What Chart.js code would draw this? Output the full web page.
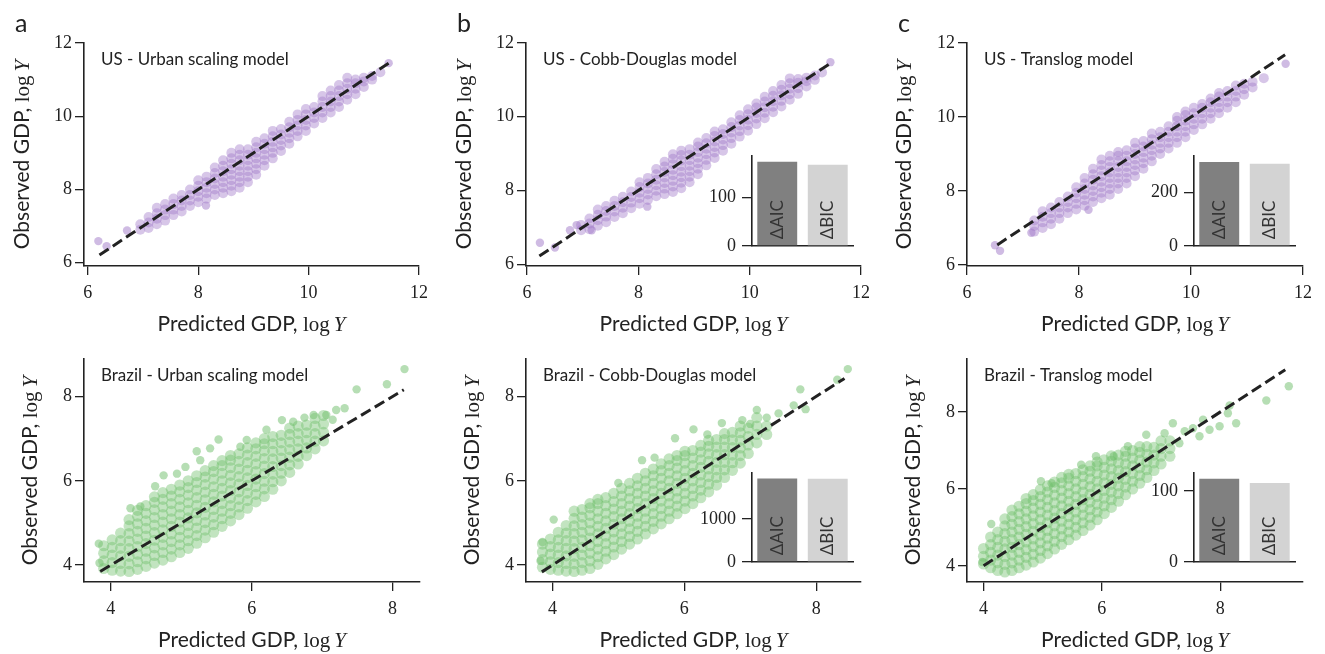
<!DOCTYPE html>
<html>
<head>
<meta charset="utf-8">
<script src="https://cdn.jsdelivr.net/npm/chart.js@4.4.0/dist/chart.umd.min.js"></script>
<style>
  body { margin: 0; background: #fff; width: 1325px; height: 654px; position: relative; overflow: hidden; }
  canvas { position: absolute; }
</style>
</head>
<body>
<script>
// ---------- data ----------
// scatter clouds: [predicted, [observed, ...]] columns plus loose points
const usUrbanCols = [
  [6.95, [6.9, 7.05]],
  [7.1, [6.95, 7.1, 7.25]],
  [7.25, [7.05, 7.2, 7.35, 7.5]],
  [7.4, [7.15, 7.3, 7.45, 7.6]],
  [7.55, [7.3, 7.45, 7.6, 7.75]],
  [7.7, [7.4, 7.55, 7.7, 7.85]],
  [7.85, [7.55, 7.7, 7.85, 8.0]],
  [8.0, [7.65, 7.8, 7.95, 8.1, 8.25]],
  [8.15, [7.75, 7.9, 8.05, 8.2, 8.35]],
  [8.3, [7.85, 8.0, 8.15, 8.3, 8.45, 8.6]],
  [8.45, [7.9, 8.05, 8.2, 8.35, 8.5, 8.65, 8.8]],
  [8.6, [7.95, 8.1, 8.25, 8.4, 8.55, 8.7, 8.85, 9.0]],
  [8.75, [8.05, 8.2, 8.35, 8.5, 8.65, 8.8, 8.95, 9.1]],
  [8.9, [8.2, 8.35, 8.5, 8.65, 8.8, 8.95, 9.1]],
  [9.05, [8.4, 8.55, 8.7, 8.85, 9.0, 9.15, 9.3]],
  [9.2, [8.65, 8.8, 8.95, 9.1, 9.25, 9.4]],
  [9.35, [8.85, 9.0, 9.15, 9.3, 9.45, 9.6]],
  [9.5, [9.05, 9.2, 9.35, 9.5, 9.65]],
  [9.65, [9.25, 9.4, 9.55, 9.7, 9.85]],
  [9.8, [9.45, 9.6, 9.75, 9.9, 10.05]],
  [9.95, [9.6, 9.75, 9.9, 10.05, 10.2]],
  [10.1, [9.8, 9.95, 10.1, 10.25]],
  [10.25, [9.95, 10.1, 10.25, 10.4, 10.55]],
  [10.4, [10.1, 10.25, 10.4, 10.55, 10.7]],
  [10.55, [10.25, 10.4, 10.55, 10.7, 10.85]],
  [10.7, [10.45, 10.6, 10.75, 10.9, 11.05]],
  [10.85, [10.6, 10.75, 10.9, 11.0]],
  [11.0, [10.8, 10.95, 11.05]],
  [11.15, [11.0, 11.1]],
  [11.3, [11.2]]
];
const usUrbanLoose = [[6.19, 6.59], [6.34, 6.45], [6.71, 6.88], [8.14, 7.56], [11.45, 11.45]];

const usCobbCols = [
  [6.97, [6.92, 7.06]],
  [7.12, [6.95, 7.1, 7.24]],
  [7.27, [7.04, 7.19, 7.34, 7.48]],
  [7.42, [7.14, 7.29, 7.44, 7.58]],
  [7.57, [7.28, 7.43, 7.58, 7.72]],
  [7.72, [7.38, 7.53, 7.68, 7.83]],
  [7.87, [7.52, 7.67, 7.82, 7.97]],
  [8.02, [7.64, 7.79, 7.94, 8.09, 8.22]],
  [8.17, [7.74, 7.89, 8.04, 8.19, 8.34]],
  [8.32, [7.84, 7.99, 8.14, 8.29, 8.44, 8.58]],
  [8.47, [7.9, 8.05, 8.2, 8.35, 8.5, 8.65, 8.78]],
  [8.62, [7.96, 8.11, 8.26, 8.41, 8.56, 8.71, 8.86, 8.98]],
  [8.77, [8.06, 8.21, 8.36, 8.51, 8.66, 8.81, 8.96, 9.08]],
  [8.92, [8.22, 8.37, 8.52, 8.67, 8.82, 8.97, 9.12]],
  [9.07, [8.44, 8.59, 8.74, 8.89, 9.04, 9.19, 9.3]],
  [9.22, [8.68, 8.83, 8.98, 9.13, 9.28, 9.42]],
  [9.37, [8.88, 9.03, 9.18, 9.33, 9.48, 9.6]],
  [9.52, [9.08, 9.23, 9.38, 9.53, 9.66]],
  [9.67, [9.27, 9.42, 9.57, 9.72, 9.85]],
  [9.82, [9.46, 9.61, 9.76, 9.91, 10.04]],
  [9.97, [9.62, 9.77, 9.92, 10.07, 10.2]],
  [10.12, [9.8, 9.95, 10.1, 10.25, 10.36]],
  [10.27, [9.96, 10.11, 10.26, 10.41, 10.54]],
  [10.42, [10.12, 10.27, 10.42, 10.57, 10.7]],
  [10.57, [10.28, 10.43, 10.58, 10.73, 10.86]],
  [10.72, [10.46, 10.61, 10.76, 10.91, 11.04]],
  [10.87, [10.62, 10.77, 10.92, 11.02]],
  [11.02, [10.82, 10.96, 11.06]],
  [11.17, [11.0, 11.12]],
  [11.3, [11.2]]
];
const usCobbLoose = [[6.23, 6.58], [6.5, 6.45], [6.77, 6.92], [6.89, 7.06], [7.16, 6.92], [8.16, 7.56], [11.45, 11.48]];

const usTranslogCols = [
  [7.2, [6.9, 7.05, 7.2]],
  [7.35, [7.0, 7.15, 7.3, 7.45]],
  [7.5, [7.1, 7.25, 7.4, 7.55]],
  [7.65, [7.25, 7.4, 7.55, 7.7]],
  [7.8, [7.4, 7.55, 7.7, 7.85]],
  [7.95, [7.5, 7.65, 7.8, 7.95, 8.1]],
  [8.1, [7.6, 7.75, 7.9, 8.05, 8.2, 8.35]],
  [8.25, [7.7, 7.85, 8.0, 8.15, 8.3, 8.45, 8.6]],
  [8.4, [7.8, 7.95, 8.1, 8.25, 8.4, 8.55, 8.7, 8.85]],
  [8.55, [7.9, 8.05, 8.2, 8.35, 8.5, 8.65, 8.8, 8.95]],
  [8.7, [8.05, 8.2, 8.35, 8.5, 8.65, 8.8, 8.95, 9.05]],
  [8.85, [8.2, 8.35, 8.5, 8.65, 8.8, 8.95, 9.1]],
  [9.0, [8.4, 8.55, 8.7, 8.85, 9.0, 9.15, 9.3]],
  [9.15, [8.6, 8.75, 8.9, 9.05, 9.2, 9.35]],
  [9.3, [8.8, 8.95, 9.1, 9.25, 9.4, 9.55]],
  [9.45, [9.0, 9.15, 9.3, 9.45, 9.6]],
  [9.6, [9.15, 9.3, 9.45, 9.6, 9.75]],
  [9.75, [9.3, 9.45, 9.6, 9.75, 9.9, 10.0]],
  [9.9, [9.45, 9.6, 9.75, 9.9, 10.05, 10.15]],
  [10.05, [9.65, 9.8, 9.95, 10.1, 10.25]],
  [10.2, [9.8, 9.95, 10.1, 10.25, 10.35]],
  [10.35, [9.95, 10.1, 10.25, 10.4, 10.5]],
  [10.5, [10.1, 10.25, 10.4, 10.55, 10.65]],
  [10.65, [10.25, 10.4, 10.55, 10.7]],
  [10.8, [10.4, 10.55, 10.7, 10.85]],
  [10.95, [10.6, 10.75, 10.9]],
  [11.1, [10.8, 10.95]],
  [11.3, [11.05]]
];
const usTranslogLoose = [[6.5, 6.53], [6.59, 6.38], [7.15, 6.87], [8.17, 7.49], [11.69, 11.44]];

const brUrbanCols = [
  [3.9, [3.92, 4.1, 4.28, 4.46]],
  [4.02, [3.88, 4.06, 4.24, 4.42, 4.6]],
  [4.14, [3.86, 4.04, 4.22, 4.4, 4.58, 4.76]],
  [4.26, [3.85, 4.03, 4.21, 4.39, 4.57, 4.75, 4.93, 5.08]],
  [4.38, [3.9, 4.08, 4.26, 4.44, 4.62, 4.8, 4.98, 5.16, 5.3]],
  [4.5, [3.97, 4.15, 4.33, 4.51, 4.69, 4.87, 5.05, 5.23, 5.41]],
  [4.62, [4.05, 4.23, 4.41, 4.59, 4.77, 4.95, 5.13, 5.31, 5.49, 5.62]],
  [4.74, [4.12, 4.3, 4.48, 4.66, 4.84, 5.02, 5.2, 5.38, 5.56, 5.72]],
  [4.86, [4.2, 4.38, 4.56, 4.74, 4.92, 5.1, 5.28, 5.46, 5.64, 5.8]],
  [4.98, [4.3, 4.48, 4.66, 4.84, 5.02, 5.2, 5.38, 5.56, 5.74, 5.9]],
  [5.1, [4.4, 4.58, 4.76, 4.94, 5.12, 5.3, 5.48, 5.66, 5.84, 6.0]],
  [5.22, [4.52, 4.7, 4.88, 5.06, 5.24, 5.42, 5.6, 5.78, 5.96, 6.12]],
  [5.34, [4.65, 4.83, 5.01, 5.19, 5.37, 5.55, 5.73, 5.91, 6.09, 6.24]],
  [5.46, [4.78, 4.96, 5.14, 5.32, 5.5, 5.68, 5.86, 6.04, 6.22, 6.36]],
  [5.58, [4.92, 5.1, 5.28, 5.46, 5.64, 5.82, 6.0, 6.18, 6.36, 6.48]],
  [5.7, [5.05, 5.23, 5.41, 5.59, 5.77, 5.95, 6.13, 6.31, 6.49, 6.6]],
  [5.82, [5.2, 5.38, 5.56, 5.74, 5.92, 6.1, 6.28, 6.46, 6.64]],
  [5.94, [5.35, 5.53, 5.71, 5.89, 6.07, 6.25, 6.43, 6.61, 6.78]],
  [6.06, [5.5, 5.68, 5.86, 6.04, 6.22, 6.4, 6.58, 6.76, 6.9]],
  [6.18, [5.63, 5.81, 5.99, 6.17, 6.35, 6.53, 6.71, 6.88, 7.0]],
  [6.3, [5.8, 5.98, 6.16, 6.34, 6.52, 6.7, 6.88, 7.05]],
  [6.42, [6.0, 6.18, 6.36, 6.54, 6.72, 6.9, 7.08]],
  [6.54, [6.2, 6.38, 6.56, 6.74, 6.92, 7.1, 7.25]],
  [6.66, [6.4, 6.58, 6.76, 6.94, 7.12, 7.3]],
  [6.78, [6.6, 6.78, 6.96, 7.14, 7.32]],
  [6.9, [6.76, 6.94, 7.12, 7.3, 7.48]],
  [7.02, [6.95, 7.15, 7.35, 7.55]]
];
const brUrbanLoose = [
  [3.83, 4.51], [3.84, 4.05], [4.28, 5.35], [4.42, 5.39], [4.63, 5.87], [4.75, 6.13], [4.94, 6.17],
  [5.06, 6.33], [5.22, 6.7], [5.27, 6.49], [5.41, 6.77], [5.53, 6.98], [5.84, 6.81], [5.93, 6.97],
  [6.21, 7.21], [6.43, 7.44], [6.59, 7.4], [6.75, 7.5], [6.88, 7.56], [7.06, 7.56], [7.15, 7.45],
  [7.2, 7.68], [7.32, 7.72], [7.49, 8.17], [7.92, 8.29], [8.17, 8.65]
];

const brCobbCols = [
  [3.85, [3.95, 4.13, 4.31, 4.5]],
  [3.97, [3.9, 4.08, 4.26, 4.44, 4.62]],
  [4.09, [3.88, 4.06, 4.24, 4.42, 4.6, 4.78]],
  [4.21, [3.86, 4.04, 4.22, 4.4, 4.58, 4.76, 4.94]],
  [4.33, [3.85, 4.03, 4.21, 4.39, 4.57, 4.75, 4.93, 5.11, 5.28]],
  [4.45, [3.88, 4.06, 4.24, 4.42, 4.6, 4.78, 4.96, 5.14, 5.32]],
  [4.57, [3.92, 4.1, 4.28, 4.46, 4.64, 4.82, 5.0, 5.18, 5.36, 5.46]],
  [4.69, [4.02, 4.2, 4.38, 4.56, 4.74, 4.92, 5.1, 5.28, 5.46, 5.56]],
  [4.81, [4.15, 4.33, 4.51, 4.69, 4.87, 5.05, 5.23, 5.41, 5.6]],
  [4.93, [4.25, 4.43, 4.61, 4.79, 4.97, 5.15, 5.33, 5.51, 5.7]],
  [5.05, [4.38, 4.56, 4.74, 4.92, 5.1, 5.28, 5.46, 5.64, 5.82]],
  [5.17, [4.5, 4.68, 4.86, 5.04, 5.22, 5.4, 5.58, 5.76, 5.94]],
  [5.29, [4.62, 4.8, 4.98, 5.16, 5.34, 5.52, 5.7, 5.88, 6.06]],
  [5.41, [4.74, 4.92, 5.1, 5.28, 5.46, 5.64, 5.82, 6.0, 6.18]],
  [5.53, [4.86, 5.04, 5.22, 5.4, 5.58, 5.76, 5.94, 6.12, 6.28]],
  [5.65, [4.98, 5.16, 5.34, 5.52, 5.7, 5.88, 6.06, 6.24, 6.4]],
  [5.77, [5.1, 5.28, 5.46, 5.64, 5.82, 6.0, 6.18, 6.36, 6.52]],
  [5.89, [5.22, 5.4, 5.58, 5.76, 5.94, 6.12, 6.3, 6.48, 6.6]],
  [6.01, [5.34, 5.52, 5.7, 5.88, 6.06, 6.24, 6.42, 6.6, 6.7]],
  [6.13, [5.46, 5.64, 5.82, 6.0, 6.18, 6.36, 6.54, 6.72]],
  [6.25, [5.6, 5.78, 5.96, 6.14, 6.32, 6.5, 6.68, 6.84]],
  [6.37, [5.74, 5.92, 6.1, 6.28, 6.46, 6.64, 6.82, 6.96]],
  [6.49, [5.9, 6.08, 6.26, 6.44, 6.62, 6.8, 6.98]],
  [6.61, [6.08, 6.26, 6.44, 6.62, 6.8, 6.98, 7.12]],
  [6.73, [6.25, 6.43, 6.61, 6.79, 6.97, 7.15]],
  [6.85, [6.42, 6.6, 6.78, 6.96, 7.14, 7.3]],
  [6.97, [6.65, 6.85, 7.05, 7.25]],
  [7.1, [6.9, 7.1, 7.3, 7.5]],
  [7.25, [7.1, 7.3]]
];
const brCobbLoose = [
  [3.82, 4.1], [3.85, 4.55], [4.02, 5.08], [5.0, 5.95], [5.36, 6.49], [5.55, 6.55], [5.86, 7.01],
  [6.14, 7.22], [6.35, 7.1], [6.57, 7.37], [6.88, 7.44], [7.0, 7.35], [7.1, 7.68], [7.25, 7.5],
  [7.43, 7.6], [7.66, 7.79], [7.76, 8.17], [7.84, 7.7], [8.32, 8.4], [8.48, 8.65]
];

const brTranslogCols = [
  [4.0, [4.05, 4.25, 4.45]],
  [4.12, [3.95, 4.15, 4.35, 4.55, 4.75]],
  [4.24, [3.88, 4.08, 4.28, 4.48, 4.68, 4.88]],
  [4.36, [3.84, 4.04, 4.24, 4.44, 4.64, 4.84, 5.04, 5.22]],
  [4.48, [3.88, 4.08, 4.28, 4.48, 4.68, 4.88, 5.08, 5.28, 5.45]],
  [4.6, [3.95, 4.15, 4.35, 4.55, 4.75, 4.95, 5.15, 5.35, 5.55]],
  [4.72, [4.02, 4.22, 4.42, 4.62, 4.82, 5.02, 5.22, 5.42, 5.62, 5.75]],
  [4.84, [4.1, 4.3, 4.5, 4.7, 4.9, 5.1, 5.3, 5.5, 5.7, 5.85]],
  [4.96, [4.2, 4.4, 4.6, 4.8, 5.0, 5.2, 5.4, 5.6, 5.8, 5.98]],
  [5.08, [4.32, 4.52, 4.72, 4.92, 5.12, 5.32, 5.52, 5.72, 5.92, 6.08]],
  [5.2, [4.44, 4.64, 4.84, 5.04, 5.24, 5.44, 5.64, 5.84, 6.04, 6.18]],
  [5.32, [4.56, 4.76, 4.96, 5.16, 5.36, 5.56, 5.76, 5.96, 6.16, 6.3]],
  [5.44, [4.68, 4.88, 5.08, 5.28, 5.48, 5.68, 5.88, 6.08, 6.28, 6.38]],
  [5.56, [4.8, 5.0, 5.2, 5.4, 5.6, 5.8, 6.0, 6.2, 6.4]],
  [5.68, [4.92, 5.12, 5.32, 5.52, 5.72, 5.92, 6.12, 6.32, 6.5]],
  [5.8, [5.06, 5.26, 5.46, 5.66, 5.86, 6.06, 6.26, 6.46, 6.6]],
  [5.92, [5.2, 5.4, 5.6, 5.8, 6.0, 6.2, 6.4, 6.6, 6.7]],
  [6.04, [5.36, 5.56, 5.76, 5.96, 6.16, 6.36, 6.56, 6.76]],
  [6.16, [5.52, 5.72, 5.92, 6.12, 6.32, 6.52, 6.72, 6.86]],
  [6.28, [5.68, 5.88, 6.08, 6.28, 6.48, 6.68, 6.88]],
  [6.4, [5.85, 6.05, 6.25, 6.45, 6.65, 6.85, 6.98]],
  [6.52, [6.0, 6.2, 6.4, 6.6, 6.8, 7.0]],
  [6.64, [6.15, 6.35, 6.55, 6.75, 6.95, 7.1]],
  [6.76, [6.3, 6.5, 6.7, 6.9, 7.1]],
  [6.88, [6.48, 6.68, 6.88, 7.08]],
  [7.0, [6.65, 6.85, 7.05, 7.25]],
  [7.15, [6.85, 7.05, 7.25]]
];
const brTranslogLoose = [
  [3.98, 4.1], [4.13, 5.09], [4.97, 6.2], [5.15, 6.15], [5.65, 6.63], [5.9, 6.85], [6.2, 6.85],
  [6.44, 7.11], [6.75, 7.41], [7.06, 7.45], [7.2, 7.71], [7.31, 7.19], [7.4, 7.5], [7.54, 7.58],
  [7.65, 7.37], [7.71, 7.8], [7.82, 7.54], [7.99, 7.63], [8.13, 7.97], [8.16, 8.17], [8.27, 7.71],
  [8.78, 8.3], [9.16, 8.67]
];

// y = x reference segments: [from, to]
const usUrbanDiag = [6.21, 11.45];
const usCobbDiag = [6.22, 11.43];
const usTranslogDiag = [6.54, 11.68];
const brUrbanDiag = [3.85, 8.16];
const brCobbDiag = [3.84, 8.43];
const brTranslogDiag = [4.0, 9.1];

// tick labels
const usTicks = [6, 8, 10, 12];
const brTicks = [4, 6, 8];

// inset bars
const insetLabels = ['\u0394AIC', '\u0394BIC'];
const usCobbDelta = [174, 168];
const usTranslogDelta = [315, 309];
const brCobbDelta = [1944, 1937];
const brTranslogDelta = [117, 111];
const usCobbInsetTicks = [0, 100];
const usTranslogInsetTicks = [0, 200];
const brCobbInsetTicks = [0, 1000];
const brTranslogInsetTicks = [0, 100];

// ---------- styling ----------
const SANS = 'Lato, "DejaVu Sans", sans-serif';
const SERIF = '"Liberation Serif", "DejaVu Serif", serif';
const INK = '#222';
const purple = 'rgba(160, 120, 200, 0.42)';
const purpleDot = 'rgba(160, 120, 200, 0.5)';
const green = 'rgba(110, 190, 105, 0.42)';
const greenDot = 'rgba(110, 190, 105, 0.5)';

const PADL = 80, PADT = 30, PADR = 25, PADB = 75;

function addCanvas(left, top, w, h) {
  const c = document.createElement('canvas');
  c.width = w; c.height = h;
  c.style.left = left + 'px';
  c.style.top = top + 'px';
  c.style.width = w + 'px';
  c.style.height = h + 'px';
  document.body.appendChild(c);
  return c;
}

function colPoints(cols) {
  const pts = [];
  cols.forEach(([x, ys]) => ys.forEach(y => pts.push({ x, y })));
  return pts;
}

// "Predicted GDP, log Y" with sans words and serif math
function drawMixedLabel(ctx, words, cx, baseY, size) {
  const parts = [
    [words, size + 'px ' + SANS, 0],
    ['log', size + 'px ' + SERIF, 4],
    ['Y', 'italic ' + size + 'px ' + SERIF, 0]
  ];
  let total = 0;
  parts.forEach(p => { ctx.font = p[1]; total += ctx.measureText(p[0]).width + p[2]; });
  let x = cx - total / 2;
  ctx.textAlign = 'left';
  ctx.textBaseline = 'alphabetic';
  parts.forEach(p => {
    ctx.font = p[1];
    ctx.fillText(p[0], x, baseY);
    x += ctx.measureText(p[0]).width + p[2];
  });
}

const panelText = {
  id: 'panelText',
  afterDraw(chart, args, opts) {
    const { ctx, chartArea: a } = chart;
    ctx.save();
    ctx.fillStyle = INK;
    if (opts.letter) {
      ctx.font = '25px ' + SANS;
      ctx.textBaseline = 'alphabetic';
      ctx.fillText(opts.letter, a.left - 69, a.top - 11);
    }
    ctx.font = '17px ' + SANS;
    ctx.textBaseline = 'alphabetic';
    ctx.fillText(opts.title, a.left + 17, a.top + 22);
    drawMixedLabel(ctx, 'Predicted GDP, ', (a.left + a.right) / 2, a.bottom + 65, 21);
    ctx.translate(a.left - opts.yOff, (a.top + a.bottom) / 2);
    ctx.rotate(-Math.PI / 2);
    drawMixedLabel(ctx, 'Observed GDP, ', 0, 0, 21);
    ctx.restore();
  }
};

function axis(min, max, ticksArr, isX) {
  return {
    type: 'linear',
    min, max,
    afterBuildTicks: s => { s.ticks = ticksArr.map(v => ({ value: v })); },
    afterFit: s => { if (isX) s.height = PADB; else s.width = PADL; },
    grid: { display: true, drawOnChartArea: false, drawTicks: true, tickLength: 9, color: INK, lineWidth: 1.3 },
    border: { display: true, color: INK, width: 1.6 },
    ticks: {
      color: INK,
      font: { family: SERIF, size: 18 },
      padding: isX ? 7 : 3,
      maxRotation: 0,
      autoSkip: false,
      callback: v => String(v)
    }
  };
}

function drawPanel(p) {
  const [l, t, r, b] = p.area;
  const cv = addCanvas(l - PADL, t - PADT, (r - l) + PADL + PADR, (b - t) + PADT + PADB);
  const diag = p.diag;
  return new Chart(cv.getContext('2d'), {
    type: 'scatter',
    data: {
      datasets: [
        {
          type: 'line',
          data: [{ x: diag[0], y: diag[0] }, { x: diag[1], y: diag[1] }],
          borderColor: INK,
          borderWidth: 3,
          borderDash: [11, 5],
          pointRadius: 0,
          fill: false,
          order: 0
        },
        {
          data: colPoints(p.cols),
          backgroundColor: p.color,
          borderWidth: 0,
          pointRadius: p.radius,
          order: 1
        },
        {
          data: p.loose.map(([x, y]) => ({ x, y })),
          backgroundColor: p.dot,
          borderWidth: 0,
          pointRadius: 4.2,
          order: 2
        }
      ]
    },
    options: {
      responsive: false,
      animation: false,
      devicePixelRatio: 1,
      layout: { padding: { left: 0, top: PADT, right: PADR, bottom: 0 } },
      plugins: {
        legend: { display: false },
        tooltip: { enabled: false },
        panelText: { letter: p.letter, title: p.title, yOff: p.yOff }
      },
      scales: {
        x: axis(p.x[0], p.x[1], p.xt, true),
        y: axis(p.y[0], p.y[1], p.yt, false)
      }
    },
    plugins: [panelText]
  });
}

const barText = {
  id: 'barText',
  afterDatasetsDraw(chart) {
    const { ctx } = chart;
    const meta = chart.getDatasetMeta(0);
    ctx.save();
    ctx.fillStyle = '#333';
    ctx.font = '17px ' + SANS;
    ctx.textAlign = 'left';
    ctx.textBaseline = 'middle';
    meta.data.forEach((bar, i) => {
      ctx.save();
      ctx.translate(bar.x, bar.base - 6);
      ctx.rotate(-Math.PI / 2);
      ctx.fillText(chart.data.labels[i], 0, 0);
      ctx.restore();
    });
    ctx.restore();
  }
};

const IPL = 64, IPT = 20, IPR = 6, IPB = 20;

function drawInset(area, values, ymax, tickList) {
  const [l, t, r, b] = area;
  const cv = addCanvas(l - IPL, t - IPT, (r - l) + IPL + IPR, (b - t) + IPT + IPB);
  return new Chart(cv.getContext('2d'), {
    type: 'bar',
    data: {
      labels: insetLabels,
      datasets: [{
        data: values,
        backgroundColor: ['#808080', '#d3d3d3'],
        borderWidth: 0,
        barPercentage: 0.79,
        categoryPercentage: 1
      }]
    },
    options: {
      responsive: false,
      animation: false,
      devicePixelRatio: 1,
      layout: { padding: { left: 0, top: IPT, right: IPR, bottom: 0 } },
      plugins: { legend: { display: false }, tooltip: { enabled: false } },
      scales: {
        x: {
          grid: { display: false },
          border: { display: true, color: INK, width: 1.6 },
          ticks: { display: false },
          afterFit: s => { s.height = IPB; }
        },
        y: {
          min: 0, max: ymax,
          afterBuildTicks: s => { s.ticks = tickList.map(v => ({ value: v })); },
          afterFit: s => { s.width = IPL; },
          grid: { display: true, drawOnChartArea: false, drawTicks: true, tickLength: 10, color: INK, lineWidth: 1.3 },
          border: { display: true, color: INK, width: 1.6 },
          ticks: { color: INK, font: { family: SERIF, size: 18 }, padding: 6, callback: v => String(v) }
        }
      }
    },
    plugins: [barText]
  });
}

// ---------- panels ----------
drawPanel({ letter: 'a', title: 'US - Urban scaling model', area: [84, 43, 419, 266],
  x: [5.93, 12], y: [5.91, 12], xt: usTicks, yt: usTicks, radius: 5,
  cols: usUrbanCols, loose: usUrbanLoose, diag: usUrbanDiag, color: purple, dot: purpleDot, yOff: 55 });
drawPanel({ letter: 'b', title: 'US - Cobb-Douglas model', area: [526, 43, 861, 266],
  x: [5.98, 12], y: [5.95, 12], xt: usTicks, yt: usTicks, radius: 5,
  cols: usCobbCols, loose: usCobbLoose, diag: usCobbDiag, color: purple, dot: purpleDot, yOff: 55 });
drawPanel({ letter: 'c', title: 'US - Translog model', area: [967, 43, 1303, 266],
  x: [6, 12], y: [5.97, 12], xt: usTicks, yt: usTicks, radius: 5,
  cols: usTranslogCols, loose: usTranslogLoose, diag: usTranslogDiag, color: purple, dot: purpleDot, yOff: 56 });

drawPanel({ letter: '', title: 'Brazil - Urban scaling model', area: [84, 359, 420, 582],
  x: [3.62, 8.39], y: [3.6, 8.89], xt: brTicks, yt: brTicks, radius: 5.6,
  cols: brUrbanCols, loose: brUrbanLoose, diag: brUrbanDiag, color: green, dot: greenDot, yOff: 47 });
drawPanel({ letter: '', title: 'Brazil - Cobb-Douglas model', area: [526, 359, 861, 582],
  x: [3.6, 8.68], y: [3.6, 8.89], xt: brTicks, yt: brTicks, radius: 5.6,
  cols: brCobbCols, loose: brCobbLoose, diag: brCobbDiag, color: green, dot: greenDot, yOff: 47 });
drawPanel({ letter: '', title: 'Brazil - Translog model', area: [967, 359, 1303, 582],
  x: [3.72, 9.4], y: [3.58, 9.38], xt: brTicks, yt: brTicks, radius: 5.6,
  cols: brTranslogCols, loose: brTranslogLoose, diag: brTranslogDiag, color: green, dot: greenDot, yOff: 47 });

// ---------- insets ----------
drawInset([752, 156, 853, 246], usCobbDelta, 186, usCobbInsetTicks);
drawInset([1194, 156, 1295, 246], usTranslogDelta, 338, usTranslogInsetTicks);
drawInset([752, 473, 853, 562], brCobbDelta, 2070, brCobbInsetTicks);
drawInset([1194, 473, 1295, 562], brTranslogDelta, 125, brTranslogInsetTicks);
</script>
</body>
</html>
